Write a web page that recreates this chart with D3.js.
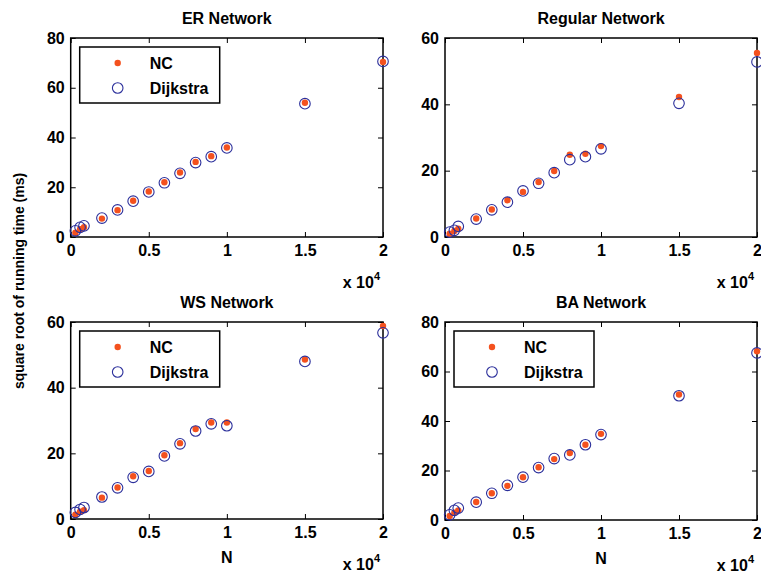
<!DOCTYPE html>
<html>
<head>
<meta charset="utf-8">
<script src="https://cdn.jsdelivr.net/npm/d3@7"></script>
<style>
  body { margin: 0; background: #fff; }
  text { font-family: "Liberation Sans", Arial, sans-serif; font-weight: bold; }
</style>
</head>
<body>
<div id="wrapper"></div>
<script>
// network sizes N
const sizes = [300, 600, 850, 2000, 3000, 4000, 5000, 6000, 7000, 8000, 9000, 10000, 15000, 20000]

// square root of running time (ms)
const erNC = [1.7, 3.1, 3.9, 7.4, 10.8, 14.6, 18.3, 22.0, 25.9, 30.2, 32.5, 36.0, 54.0, 70.4]
const erDijkstra = [2.5, 3.9, 4.5, 7.6, 10.9, 14.4, 18.1, 21.8, 25.6, 29.9, 32.3, 35.8, 53.6, 70.6]
const regularNC = [1.0, 1.8, 2.5, 5.6, 8.3, 11.1, 13.6, 16.6, 19.9, 24.8, 25.1, 27.4, 42.2, 55.5]
const regularDijkstra = [1.5, 2.0, 3.2, 5.4, 8.2, 10.5, 13.9, 16.2, 19.4, 23.3, 24.2, 26.6, 40.3, 52.8]
const wsNC = [1.3, 2.2, 2.7, 6.5, 9.6, 13.0, 14.6, 19.4, 23.1, 27.4, 29.4, 29.4, 48.6, 58.8]
const wsDijkstra = [2.0, 2.9, 3.5, 6.7, 9.5, 12.7, 14.5, 19.2, 22.9, 26.8, 29.0, 28.4, 48.0, 56.7]
const baNC = [1.6, 2.9, 3.9, 7.3, 10.8, 13.8, 17.3, 21.3, 24.6, 27.1, 30.4, 34.8, 50.7, 68.2]
const baDijkstra = [2.1, 3.9, 4.8, 7.2, 10.8, 14.0, 17.3, 21.2, 24.8, 26.3, 30.4, 34.5, 50.2, 67.5]

const titles = ["ER Network", "Regular Network", "WS Network", "BA Network"]
const yMaxes = [80, 60, 60, 80]
const xTicks = [0, 5000, 10000, 15000, 20000]
const legendLabels = ["NC", "Dijkstra"]

const width = 761
const height = 576
const fontSize = 16
const ncColor = "#f4511e"
const dijkstraColor = "#2b2f9b"

const panels = [
  { title: titles[0], yMax: yMaxes[0], nc: erNC, dij: erDijkstra, legend: true, xLabel: false,
    left: 70.7, top: 38, right: 383, bottom: 237 },
  { title: titles[1], yMax: yMaxes[1], nc: regularNC, dij: regularDijkstra, legend: false, xLabel: false,
    left: 445, top: 38, right: 757, bottom: 237 },
  { title: titles[2], yMax: yMaxes[2], nc: wsNC, dij: wsDijkstra, legend: true, xLabel: true,
    left: 70.7, top: 322, right: 383, bottom: 519 },
  { title: titles[3], yMax: yMaxes[3], nc: baNC, dij: baDijkstra, legend: true, xLabel: true,
    left: 445, top: 322, right: 757, bottom: 520 },
]

const svg = d3.select("#wrapper")
  .append("svg")
  .attr("width", width)
  .attr("height", height)

svg.append("text")
  .attr("transform", "translate(24, 281) rotate(-90)")
  .attr("text-anchor", "middle")
  .attr("font-size", 14)
  .text("square root of running time (ms)")

panels.forEach(p => {
  const x = d3.scaleLinear().domain([0, 20000]).range([p.left, p.right])
  const y = d3.scaleLinear().domain([0, p.yMax]).range([p.bottom, p.top])
  const yTicks = d3.range(0, p.yMax + 1, 20)

  const g = svg.append("g")

  // axes with inward ticks, box style
  g.append("g")
    .attr("transform", `translate(0, ${p.bottom})`)
    .call(d3.axisBottom(x).tickValues(xTicks).tickSizeInner(-5).tickSizeOuter(0).tickPadding(8)
      .tickFormat(d => d / 10000))
  g.append("g")
    .attr("transform", `translate(0, ${p.top})`)
    .call(d3.axisTop(x).tickValues(xTicks).tickSizeInner(-5).tickSizeOuter(0).tickFormat(""))
  g.append("g")
    .attr("transform", `translate(${p.left}, 0)`)
    .call(d3.axisLeft(y).tickValues(yTicks).tickSizeInner(-5).tickSizeOuter(0).tickPadding(6))
  g.append("g")
    .attr("transform", `translate(${p.right}, 0)`)
    .call(d3.axisRight(y).tickValues(yTicks).tickSizeInner(-5).tickSizeOuter(0).tickFormat(""))

  g.selectAll(".domain").remove()
  g.selectAll(".tick line").attr("stroke", "#000").attr("stroke-width", 1)
  g.selectAll(".tick text")
    .attr("font-size", fontSize)
    .attr("font-family", "'Liberation Sans', Arial, sans-serif")
    .attr("font-weight", "bold")
    .attr("fill", "#000")

  g.append("rect")
    .attr("x", p.left)
    .attr("y", p.top)
    .attr("width", p.right - p.left)
    .attr("height", p.bottom - p.top)
    .attr("fill", "none")
    .attr("stroke", "#000")
    .attr("stroke-width", 1.5)

  g.append("text")
    .attr("x", (p.left + p.right) / 2)
    .attr("y", p.top - 14)
    .attr("text-anchor", "middle")
    .attr("font-size", fontSize)
    .text(p.title)

  // x 10^4 multiplier
  const mult = g.append("text")
    .attr("x", p.right - 3)
    .attr("y", p.bottom + 51)
    .attr("text-anchor", "end")
    .attr("font-size", fontSize)
  mult.append("tspan").text("x 10")
  mult.append("tspan").attr("dy", -8).attr("font-size", 11).text("4")

  if (p.xLabel) {
    g.append("text")
      .attr("x", (p.left + p.right) / 2)
      .attr("y", p.bottom + 44)
      .attr("text-anchor", "middle")
      .attr("font-size", fontSize)
      .text("N")
  }

  const pts = sizes.map((n, i) => ({ n: n, nc: p.nc[i], dij: p.dij[i] }))

  g.append("g").selectAll("circle")
    .data(pts)
    .join("circle")
    .attr("cx", d => x(d.n))
    .attr("cy", d => y(d.nc))
    .attr("r", 3.2)
    .attr("fill", ncColor)

  g.append("g").selectAll("circle")
    .data(pts)
    .join("circle")
    .attr("cx", d => x(d.n))
    .attr("cy", d => y(d.dij))
    .attr("r", 5.3)
    .attr("fill", "none")
    .attr("stroke", dijkstraColor)
    .attr("stroke-width", 1.1)

  if (p.legend) {
    const lx = p.left + 9
    const ly = p.top + 9
    const lg = g.append("g")
    lg.append("rect")
      .attr("x", lx)
      .attr("y", ly)
      .attr("width", 140)
      .attr("height", 56)
      .attr("fill", "#fff")
      .attr("stroke", "#000")
      .attr("stroke-width", 1.5)
    legendLabels.forEach((label, i) => {
      const cy = ly + 16 + i * 25
      if (i === 0) {
        lg.append("circle").attr("cx", lx + 38).attr("cy", cy).attr("r", 3.2).attr("fill", ncColor)
      } else {
        lg.append("circle").attr("cx", lx + 38).attr("cy", cy).attr("r", 5.3)
          .attr("fill", "none").attr("stroke", dijkstraColor).attr("stroke-width", 1.1)
      }
      lg.append("text")
        .attr("x", lx + 70)
        .attr("y", cy + 6)
        .attr("font-size", fontSize)
        .text(label)
    })
  }
})
</script>
</body>
</html>
